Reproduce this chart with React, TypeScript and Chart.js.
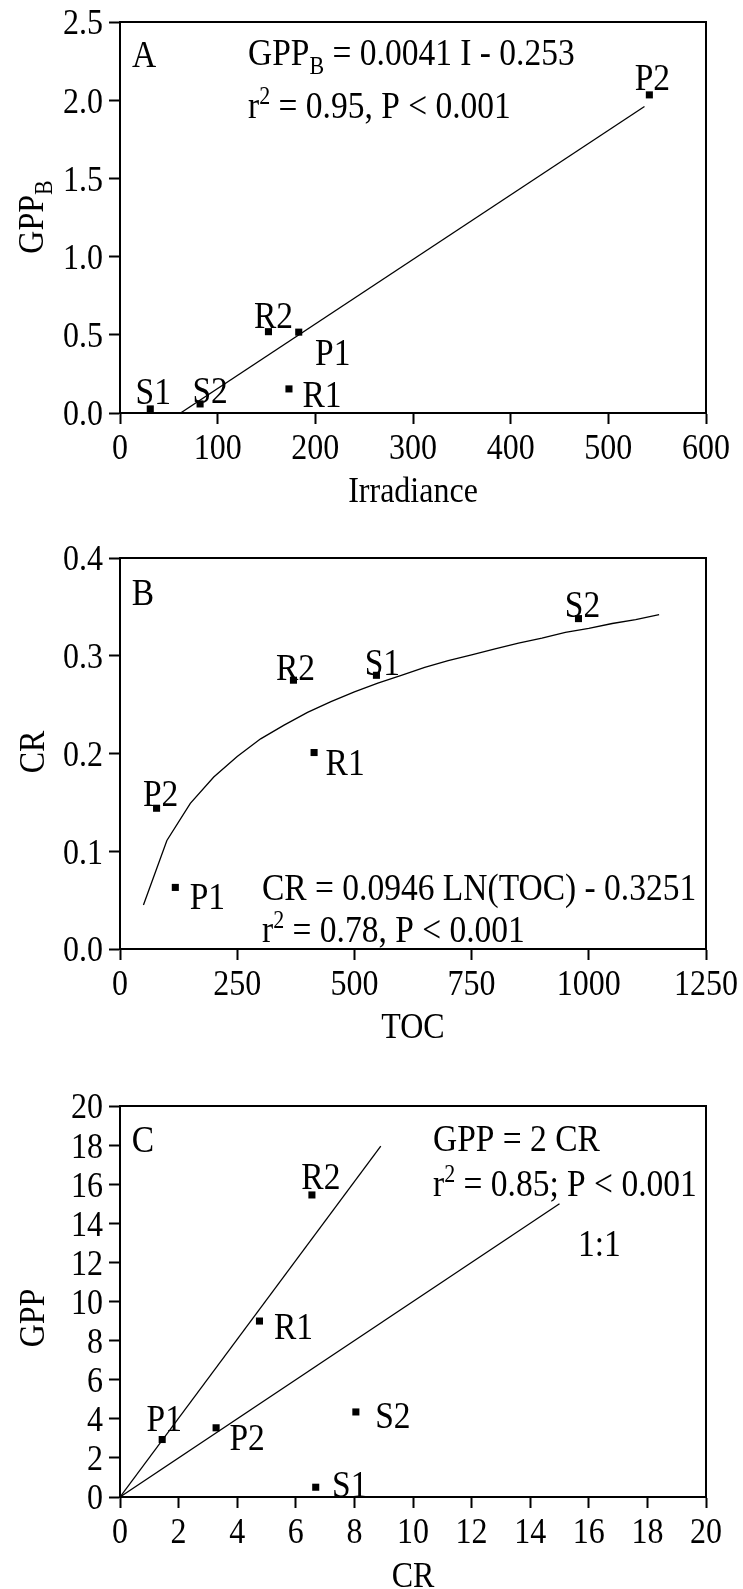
import { useEffect, useRef } from "react";
import { Chart, registerables } from "chart.js";

Chart.register(...registerables);

const FONT = "'Liberation Serif', 'Times New Roman', Times, serif";
const K = 1.15; // vertical stretch of the reference typeface

// ---------------- Panel A: GPP_B vs Irradiance ----------------
const sitesA = ["S1", "S2", "R2", "P1", "R1", "P2"];
const irradianceA = [31, 82, 152, 183, 173, 542];
const gppBA = [0.026, 0.058, 0.52, 0.517, 0.154, 2.034];
const fitIrradiance = [62, 537];
const fitGppB = [0, 1.96];
const xTicksA = [0, 100, 200, 300, 400, 500, 600];
const yTicksA = [0, 0.5, 1.0, 1.5, 2.0, 2.5];

// ---------------- Panel B: CR vs TOC ----------------
const sitesB = ["P2", "P1", "R2", "R1", "S1", "S2"];
const tocB = [78, 118, 370, 414, 547, 978];
const crB = [0.144, 0.063, 0.275, 0.201, 0.28, 0.338];
const curveToc = [50, 100, 150, 200, 250, 300, 350, 400, 450, 500, 550, 600, 650, 700, 750, 800, 850, 900, 950, 1000, 1050, 1100, 1150];
const curveCr = [0.045, 0.111, 0.149, 0.176, 0.197, 0.215, 0.229, 0.242, 0.253, 0.263, 0.272, 0.28, 0.288, 0.295, 0.301, 0.307, 0.313, 0.318, 0.324, 0.328, 0.333, 0.337, 0.342];
const xTicksB = [0, 250, 500, 750, 1000, 1250];
const yTicksB = [0, 0.1, 0.2, 0.3, 0.4];

// ---------------- Panel C: GPP vs CR ----------------
const sitesC = ["P1", "P2", "R1", "R2", "S2", "S1"];
const crC = [1.44, 3.28, 4.76, 6.55, 8.05, 6.68];
const gppC = [2.94, 3.54, 9.0, 15.45, 4.35, 0.5];
const fit2CrX = [0, 8.9];
const fit2CrY = [0, 17.95];
const oneToOneX = [0, 15];
const oneToOneY = [0, 15];
const xTicksC = [0, 2, 4, 6, 8, 10, 12, 14, 16, 18, 20];
const yTicksC = [0, 2, 4, 6, 8, 10, 12, 14, 16, 18, 20];

type Part = { t: string; size?: number; dy?: number };
type Txt = { parts: Part[]; x: number; y: number; align: "left" | "center" };

function drawRich(
  ctx: CanvasRenderingContext2D,
  parts: Part[],
  x: number,
  yCenter: number,
  align: "left" | "center" | "right",
  baseSize = 32
) {
  const base = yCenter + 0.338 * baseSize * K;
  let w = 0;
  for (const p of parts) {
    ctx.font = `${p.size ?? baseSize}px ${FONT}`;
    w += ctx.measureText(p.t).width;
  }
  let cx = align === "center" ? x - w / 2 : align === "right" ? x - w : x;
  ctx.textAlign = "left";
  ctx.textBaseline = "alphabetic";
  ctx.fillStyle = "#000";
  for (const p of parts) {
    ctx.font = `${p.size ?? baseSize}px ${FONT}`;
    ctx.save();
    ctx.translate(cx, base + (p.dy ?? 0));
    ctx.scale(1, K);
    ctx.fillText(p.t, 0, 0);
    ctx.restore();
    cx += ctx.measureText(p.t).width;
  }
}

const SUB = (t: string): Part => ({ t, size: 22, dy: 9 });
const SUP = (t: string): Part => ({ t, size: 22, dy: -14 });

function pts(xs: number[], ys: number[]) {
  return xs.map((x, i) => ({ x, y: ys[i] }));
}

function pointSet(xs: number[], ys: number[]) {
  return {
    data: pts(xs, ys),
    pointStyle: "rect",
    pointRadius: 5,
    pointHoverRadius: 5,
    backgroundColor: "#000",
    borderColor: "#000",
    borderWidth: 0,
    showLine: false,
  };
}

function lineSet(xs: number[], ys: number[]) {
  return {
    data: pts(xs, ys),
    showLine: true,
    pointRadius: 0,
    pointHoverRadius: 0,
    borderColor: "#000",
    borderWidth: 1.3,
    tension: 0,
    fill: false,
  };
}

type PanelProps = {
  top: number;
  height: number;
  areaTop: number;
  areaBottom: number;
  datasets: any[];
  labels: string[];
  labelOffsets: [number, number][];
  xTicks: number[];
  yTicks: number[];
  yDecimals: number;
  texts: Txt[];
  xTitle: Part[];
  xTitleY: number;
  yTitle: Part[];
  yTitleX: number;
  yTitleY: number;
};

function Panel(props: PanelProps) {
  const ref = useRef<HTMLCanvasElement | null>(null);
  useEffect(() => {
    if (!ref.current) return;
    const p = props;
    const overlay = {
      id: "overlay",
      afterDraw(chart: any) {
        const ctx: CanvasRenderingContext2D = chart.ctx;
        const a = chart.chartArea;
        ctx.save();
        ctx.strokeStyle = "#000";
        ctx.lineWidth = 2;
        ctx.strokeRect(a.left, a.top, a.right - a.left, a.bottom - a.top);
        // tick labels
        const xs = chart.scales.x;
        const ys = chart.scales.y;
        for (const v of p.xTicks) {
          drawRich(ctx, [{ t: v.toFixed(0) }], xs.getPixelForValue(v), a.bottom + 34, "center", 32);
        }
        for (const v of p.yTicks) {
          drawRich(ctx, [{ t: v.toFixed(p.yDecimals) }], a.left - 17, ys.getPixelForValue(v), "right", 32);
        }
        // point labels
        const meta = chart.getDatasetMeta(0);
        meta.data.forEach((el: any, i: number) => {
          const [dx, dy] = p.labelOffsets[i];
          drawRich(ctx, [{ t: p.labels[i] }], el.x + dx, el.y + dy, "center", 33.5);
        });
        // annotations (page coords -> canvas coords)
        for (const t of p.texts) {
          drawRich(ctx, t.parts, t.x, t.y - p.top, t.align, 33.5);
        }
        // x title
        drawRich(ctx, p.xTitle, (a.left + a.right) / 2, p.xTitleY - p.top, "center", 32);
        // y title
        ctx.translate(p.yTitleX, p.yTitleY - p.top);
        ctx.rotate(-Math.PI / 2);
        drawRich(ctx, p.yTitle, 0, 0, "center", 32);
        ctx.restore();
      },
    };
    const axisCommon = (ticksArr: number[]) => ({
      type: "linear",
      min: ticksArr[0],
      max: ticksArr[ticksArr.length - 1],
      afterBuildTicks: (s: any) => {
        s.ticks = ticksArr.map((value) => ({ value }));
      },
      ticks: { display: false },
      grid: {
        display: true,
        drawOnChartArea: false,
        drawTicks: true,
        tickLength: 11,
        tickColor: "#000",
        tickWidth: 2,
        color: "#000",
      },
      border: { display: true, color: "#000", width: 2 },
    });
    const xAxis: any = axisCommon(p.xTicks);
    xAxis.position = "bottom";
    xAxis.afterFit = (s: any) => {
      s.height = p.height - p.areaBottom;
    };
    const yAxis: any = axisCommon(p.yTicks);
    yAxis.position = "left";
    yAxis.afterFit = (s: any) => {
      s.width = 120;
    };
    const chart = new Chart(ref.current, {
      type: "scatter",
      data: { datasets: p.datasets },
      options: {
        animation: false,
        responsive: false,
        maintainAspectRatio: false,
        devicePixelRatio: 1,
        events: [],
        layout: { padding: { top: p.areaTop, right: 37, left: 0, bottom: 0 } },
        plugins: { legend: { display: false }, tooltip: { enabled: false } },
        scales: { x: xAxis, y: yAxis },
      },
      plugins: [overlay],
    } as any);
    return () => chart.destroy();
  }, []);
  return (
    <canvas
      ref={ref}
      width={743}
      height={props.height}
      style={{ position: "absolute", left: 0, top: props.top, width: 743, height: props.height, display: "block" }}
    />
  );
}

export default function App() {
  return (
    <div style={{ position: "absolute", left: 0, top: 0, width: 743, height: 1589, background: "#fff", overflow: "hidden" }}>
      <Panel
        top={0}
        height={530}
        areaTop={22}
        areaBottom={413}
        datasets={[pointSet(irradianceA, gppBA), lineSet(fitIrradiance, fitGppB)]}
        labels={sitesA}
        labelOffsets={[[3, -18], [10, -14], [5, -17], [34, 20], [33, 5], [3, -18]]}
        xTicks={xTicksA}
        yTicks={yTicksA}
        yDecimals={1}
        texts={[
          { parts: [{ t: "A" }], x: 144, y: 54, align: "center" },
          { parts: [{ t: "GPP" }, SUB("B"), { t: " = 0.0041 I - 0.253" }], x: 248, y: 52, align: "left" },
          { parts: [{ t: "r" }, SUP("2"), { t: " = 0.95, P < 0.001" }], x: 248, y: 105, align: "left" },
        ]}
        xTitle={[{ t: "Irradiance" }]}
        xTitleY={490}
        yTitle={[{ t: "GPP" }, SUB("B")]}
        yTitleX={31}
        yTitleY={217}
      />
      <Panel
        top={530}
        height={530}
        areaTop={28}
        areaBottom={419}
        datasets={[pointSet(tocB, crB), lineSet(curveToc, curveCr)]}
        labels={sitesB}
        labelOffsets={[[4, -15], [32, 9], [2, -13], [31, 9], [6, -13], [4, -15]]}
        xTicks={xTicksB}
        yTicks={yTicksB}
        yDecimals={1}
        texts={[
          { parts: [{ t: "B" }], x: 143, y: 592, align: "center" },
          { parts: [{ t: "CR = 0.0946 LN(TOC) - 0.3251" }], x: 262, y: 887, align: "left" },
          { parts: [{ t: "r" }, SUP("2"), { t: " = 0.78, P < 0.001" }], x: 262, y: 929, align: "left" },
        ]}
        xTitle={[{ t: "TOC" }]}
        xTitleY={1026}
        yTitle={[{ t: "CR" }]}
        yTitleX={32}
        yTitleY={752}
      />
      <Panel
        top={1060}
        height={529}
        areaTop={46}
        areaBottom={437}
        datasets={[pointSet(crC, gppC), lineSet(fit2CrX, fit2CrY), lineSet(oneToOneX, oneToOneY)]}
        labels={sitesC}
        labelOffsets={[[2, -22], [31, 9], [34, 5], [9, -19], [37, 3], [34, -3]]}
        xTicks={xTicksC}
        yTicks={yTicksC}
        yDecimals={0}
        texts={[
          { parts: [{ t: "C" }], x: 143, y: 1139, align: "center" },
          { parts: [{ t: "GPP = 2 CR" }], x: 433, y: 1138, align: "left" },
          { parts: [{ t: "r" }, SUP("2"), { t: " = 0.85; P < 0.001" }], x: 433, y: 1183, align: "left" },
          { parts: [{ t: "1:1" }], x: 578, y: 1243, align: "left" },
        ]}
        xTitle={[{ t: "CR" }]}
        xTitleY={1575}
        yTitle={[{ t: "GPP" }]}
        yTitleX={32}
        yTitleY={1318}
      />
    </div>
  );
}
